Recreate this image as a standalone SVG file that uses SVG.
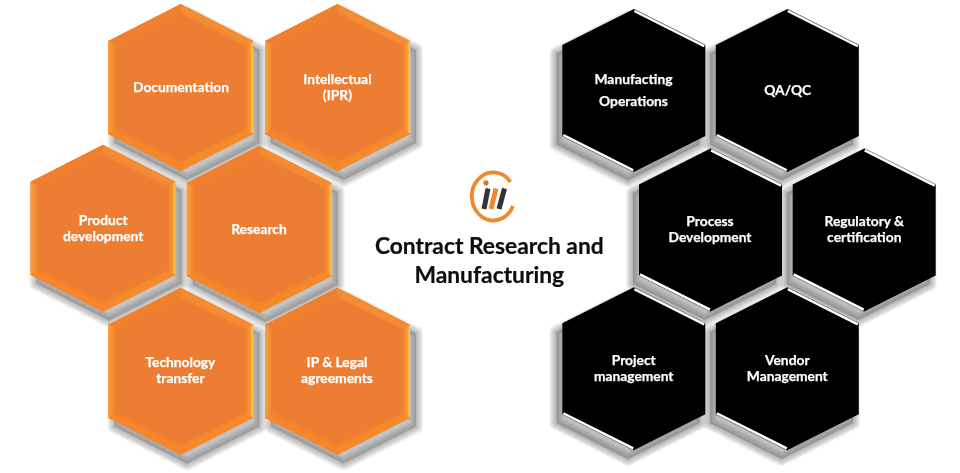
<svg xmlns="http://www.w3.org/2000/svg" width="960" height="473" viewBox="0 0 960 473">
<style>
text{font-family:"Lato","Liberation Sans",sans-serif;font-weight:700;text-anchor:middle}
.l{fill:#fff;stroke:#fff;stroke-width:.25px;font-size:13.8px;filter:url(#soft)}
.t{fill:#0c0c0c;stroke:#0c0c0c;stroke-width:.2px;font-size:22.8px;filter:url(#soft)}
.r{fill-opacity:0;stroke-opacity:.085}
</style>
<defs>
<filter id="soft" x="-5%" y="-20%" width="110%" height="140%"><feGaussianBlur stdDeviation=".35"/></filter>
<filter id="fb" x="-10%" y="-10%" width="120%" height="120%"><feGaussianBlur stdDeviation="1.5"/></filter>
<linearGradient id="gr" x1="0" x2="1" y1="0" y2="0"><stop offset="0" stop-color="#ee7f30"/><stop offset=".65" stop-color="#f49a35"/><stop offset="1" stop-color="#fbd04a"/></linearGradient>
<linearGradient id="gl" x1="0" x2="1" y1="0" y2="0"><stop offset="0" stop-color="#f9a23a"/><stop offset="1" stop-color="#ee7f30"/></linearGradient>
<polygon id="ho" points="0,-83.5 72.5,-46.5 72.5,46.5 0,83.5 -72.5,46.5 -72.5,-46.5"/>
<polygon id="hk" points="0,-81.5 71.5,-45.5 71.5,45.5 0,81.5 -71.5,45.5 -71.5,-45.5"/>
<g id="so" fill="#6f7173" stroke="#6f7173" stroke-linejoin="round">
<use href="#ho" class="r" stroke-width="14"/>
<use href="#ho" class="r" stroke-width="12"/>
<use href="#ho" class="r" stroke-width="10"/>
<use href="#ho" class="r" stroke-width="8"/>
<use href="#ho" class="r" stroke-width="6"/>
<use href="#ho" class="r" stroke-width="4"/>
<use href="#ho" class="r" stroke-width="2"/>
<use href="#ho" fill-opacity=".42" stroke="none"/>
</g>
<g id="sk" fill="#666" stroke="#666" stroke-linejoin="round">
<use href="#hk" class="r" stroke-width="14"/>
<use href="#hk" class="r" stroke-width="12"/>
<use href="#hk" class="r" stroke-width="10"/>
<use href="#hk" class="r" stroke-width="8"/>
<use href="#hk" class="r" stroke-width="6"/>
<use href="#hk" class="r" stroke-width="4"/>
<use href="#hk" class="r" stroke-width="2"/>
<use href="#hk" fill-opacity=".42" stroke="none"/>
</g>
<g id="oh">
<use href="#ho" fill="#f2842d"/>
<polygon points="0,-83.5 72.5,-46.5 64,-42 0,-73" fill="#f48c33"/>
<polygon points="0,-83.5 -72.5,-46.5 -64,-42 0,-73" fill="#f1802e"/>
<polygon points="72.5,-46.5 72.5,46.5 64,42 64,-42" fill="url(#gr)"/>
<polygon points="-72.5,-46.5 -72.5,46.5 -64,42 -64,-42" fill="url(#gl)"/>
<polygon points="0,83.5 72.5,46.5 64,42 0,73" fill="#f68a2b"/>
<polygon points="0,83.5 -72.5,46.5 -64,42 0,73" fill="#f6862b"/>
<polygon points="0,-74 65,-42 65,42 0,74 -65,42 -65,-42" fill="#ed7d31" filter="url(#fb)"/>
</g>
<g id="kh">
<use href="#hk" fill="#000"/>
<path d="M0,-81.5 71.5,-45.5" stroke="#777" stroke-width="1" fill="none"/>
<path d="M.5,-79.6 70.5,-44.4" stroke="#fff" stroke-width="2.4" fill="none"/>
<path d="M-71.5,45.5 0,81.5" stroke="#777" stroke-width="1" fill="none"/>
<path d="M-70.5,44.4 -.5,79.6" stroke="#fff" stroke-width="2.4" fill="none"/>
</g>
</defs>
<rect width="960" height="473" fill="#fff"/>
<g id="shadows">
<use href="#so" x="187" y="96.5"/>
<use href="#so" x="343.5" y="96.5"/>
<use href="#so" x="109" y="237"/>
<use href="#so" x="265.3" y="238.5"/>
<use href="#so" x="187" y="380"/>
<use href="#so" x="343.5" y="380"/>
<use href="#sk" x="628" y="99"/>
<use href="#sk" x="781.5" y="99"/>
<use href="#sk" x="704.5" y="238.5"/>
<use href="#sk" x="858.2" y="238.5"/>
<use href="#sk" x="628" y="377.5"/>
<use href="#sk" x="781.5" y="377.5"/>
</g>
<g id="documentation"><use href="#oh" x="180.7" y="87.5"/><text class="l" x="181" y="92">Documentation</text></g>
<g id="intellectual"><use href="#oh" x="337.5" y="87.5"/><text class="l" x="337.4" y="83.5">Intellectual</text><text class="l" x="337.4" y="99.5">(IPR)</text></g>
<g id="product"><use href="#oh" x="103" y="228.2"/><text class="l" x="103.2" y="224.5">Product</text><text class="l" x="103.2" y="240.7">development</text></g>
<g id="research"><use href="#oh" x="259.3" y="229.4"/><text class="l" x="259" y="233.7">Research</text></g>
<g id="technology"><use href="#oh" x="180.7" y="371.2"/><text class="l" x="180.4" y="366.7">Technology</text><text class="l" x="180.4" y="383">transfer</text></g>
<g id="ip-legal"><use href="#oh" x="337.5" y="371.2"/><text class="l" x="337" y="366.7">IP &amp; Legal</text><text class="l" x="337" y="383">agreements</text></g>
<g id="manufacturing-ops"><use href="#kh" x="633.8" y="90.6"/><text class="l" x="633.5" y="83.5">Manufacting</text><text class="l" x="633.5" y="106">Operations</text></g>
<g id="qa-qc"><use href="#kh" x="787.3" y="90.6"/><text class="l" x="787.7" y="95">QA/QC</text></g>
<g id="process"><use href="#kh" x="710.5" y="230"/><text class="l" x="710" y="225.8">Process</text><text class="l" x="710" y="241.8">Development</text></g>
<g id="regulatory"><use href="#kh" x="864.2" y="230"/><text class="l" x="864.3" y="225.8">Regulatory &amp;</text><text class="l" x="864.3" y="241.8">certification</text></g>
<g id="project"><use href="#kh" x="633.8" y="368.8"/><text class="l" x="633.7" y="365">Project</text><text class="l" x="633.7" y="381">management</text></g>
<g id="vendor"><use href="#kh" x="787.3" y="368.8"/><text class="l" x="787.3" y="365">Vendor</text><text class="l" x="787.3" y="381">Management</text></g>
<g id="logo">
<path d="M510.5,182 A21.5,24 0 1 0 513,206" fill="none" stroke="#f0892a" stroke-width="3.8"/>
<circle cx="486" cy="182.8" r="2.6" fill="#e8702a"/>
<path d="M488,188.5 484,209" stroke="#333" stroke-width="5" fill="none"/>
<path d="M496,188.5 491,209" stroke="#f0892a" stroke-width="5" fill="none"/>
<path d="M504.5,188.5 499,209" stroke="#333" stroke-width="5" fill="none"/>
</g>
<g id="title"><text class="t" x="489.3" y="254">Contract Research and</text><text class="t" x="489.3" y="282.5">Manufacturing</text></g>
</svg>
